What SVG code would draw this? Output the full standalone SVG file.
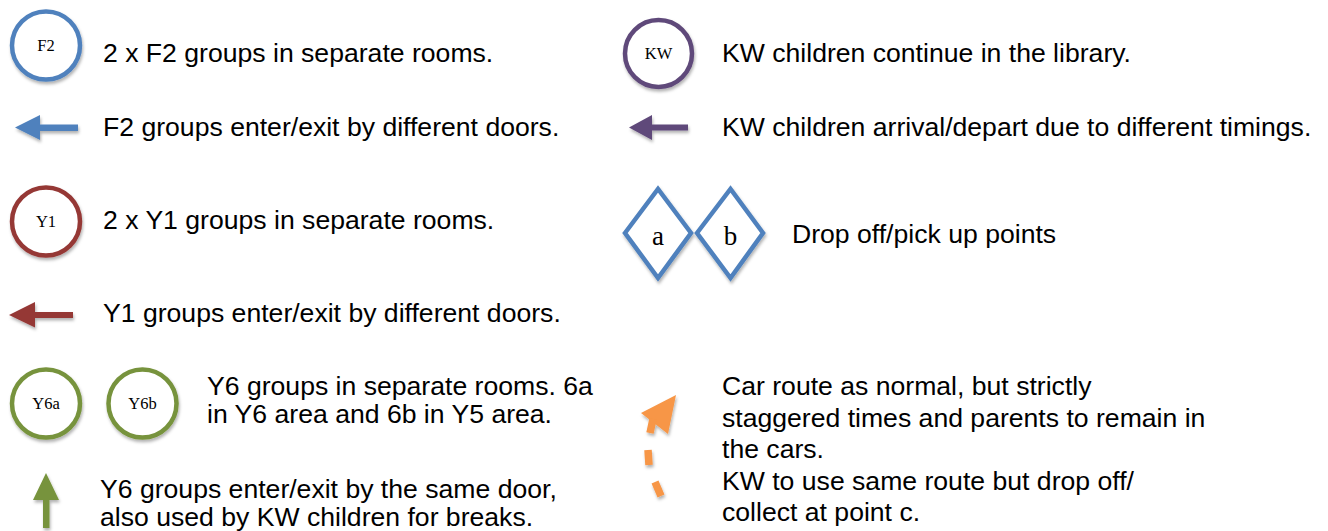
<svg xmlns="http://www.w3.org/2000/svg" width="1328" height="531" viewBox="0 0 1328 531">
  <style>
    .t { font-family: "Liberation Sans", Arial, Helvetica, sans-serif; font-size: 26.6px; fill: #000; }
    .lbl { font-family: "Liberation Serif", "Times New Roman", serif; font-size: 16.5px; fill: #000; text-anchor: middle; }
    .dl { font-family: "Liberation Serif", "Times New Roman", serif; font-size: 27px; fill: #000; text-anchor: middle; }
    .ring { fill: #fff; stroke-width: 4.5; filter: url(#sh); }
    .blue { stroke: #4f81bd; }
    .purple { stroke: #5f497a; }
    .red { stroke: #953735; }
    .green { stroke: #77933c; }
  </style>
  <defs>
    <filter id="sh" x="-30%" y="-30%" width="160%" height="160%">
      <feDropShadow dx="1" dy="2.5" stdDeviation="1.5" flood-color="#000" flood-opacity="0.3"/>
    </filter>
  </defs>

  <g id="f2-circle">
    <circle class="ring blue" cx="46" cy="45.5" r="34"/>
    <text class="lbl" x="46" y="51">F2</text>
  </g>
  <g id="f2-text"><text class="t" x="103" y="62">2 x F2 groups in separate rooms.</text></g>

  <g id="f2-arrow" filter="url(#sh)">
    <polygon points="15,127.5 40,115 40,124.5 78,124.5 78,131 40,131 40,140" fill="#4f81bd"/>
  </g>
  <g id="f2-arrow-text"><text class="t" x="103" y="136">F2 groups enter/exit by different doors.</text></g>

  <g id="y1-circle">
    <circle class="ring red" cx="46" cy="221.5" r="34"/>
    <text class="lbl" x="46" y="227">Y1</text>
  </g>
  <g id="y1-text"><text class="t" x="103" y="229">2 x Y1 groups in separate rooms.</text></g>

  <g id="y1-arrow" filter="url(#sh)">
    <polygon points="9,315 35,302 35,312 73,312 73,318 35,318 35,327.5" fill="#953735"/>
  </g>
  <g id="y1-arrow-text"><text class="t" x="103" y="322">Y1 groups enter/exit by different doors.</text></g>

  <g id="y6a-circle">
    <circle class="ring green" cx="46" cy="403.5" r="34"/>
    <text class="lbl" x="46" y="409">Y6a</text>
  </g>
  <g id="y6b-circle">
    <circle class="ring green" cx="142.5" cy="403.5" r="34"/>
    <text class="lbl" x="142.5" y="409">Y6b</text>
  </g>
  <g id="y6-text">
    <text class="t" x="207" y="395">Y6 groups in separate rooms. 6a</text>
    <text class="t" x="207" y="423">in Y6 area and 6b in Y5 area.</text>
  </g>

  <g id="y6-arrow" filter="url(#sh)">
    <polygon points="46,473 59,500 49.5,500 49.5,528 43,528 43,500 33,500" fill="#77933c"/>
  </g>
  <g id="y6-arrow-text">
    <text class="t" x="100" y="498">Y6 groups enter/exit by the same door,</text>
    <text class="t" x="100" y="526">also used by KW children for breaks.</text>
  </g>

  <g id="kw-circle">
    <circle class="ring purple" cx="658.5" cy="53.5" r="33.5"/>
    <text class="lbl" x="658.5" y="59">KW</text>
  </g>
  <g id="kw-text"><text class="t" x="722" y="62">KW children continue in the library.</text></g>

  <g id="kw-arrow" filter="url(#sh)">
    <polygon points="629,127.5 652,115 652,124.5 688,124.5 688,130.5 652,130.5 652,140" fill="#5f497a"/>
  </g>
  <g id="kw-arrow-text"><text class="t" x="722" y="136">KW children arrival/depart due to different timings.</text></g>

  <g id="point-a">
    <polygon points="625,233 658,189 691,233 658,278" fill="#fff" stroke="#4f81bd" stroke-width="4.5" stroke-linejoin="miter" filter="url(#sh)"/>
    <text class="dl" x="658" y="245">a</text>
  </g>
  <g id="point-b">
    <polygon points="697,233 730.5,189 763,233 730.5,278" fill="#fff" stroke="#4f81bd" stroke-width="4.5" stroke-linejoin="miter" filter="url(#sh)"/>
    <text class="dl" x="730.5" y="245">b</text>
  </g>
  <g id="points-text"><text class="t" x="792" y="243">Drop off/pick up points</text></g>

  <g id="car-route-arrow" filter="url(#sh)">
    <polygon points="676,395 641,413 668,434" fill="#f79646"/>
    <path d="M650,433 L653,419 M648,450 L649,465 M655,482 L661,496" stroke="#f79646" stroke-width="7.5" fill="none"/>
  </g>
  <g id="car-route-text">
    <text class="t" x="722" y="395">Car route as normal, but strictly</text>
    <text class="t" x="722" y="426.5">staggered times and parents to remain in</text>
    <text class="t" x="722" y="458">the cars.</text>
    <text class="t" x="722" y="489.5">KW to use same route but drop off/</text>
    <text class="t" x="722" y="521">collect at point c.</text>
  </g>
</svg>
